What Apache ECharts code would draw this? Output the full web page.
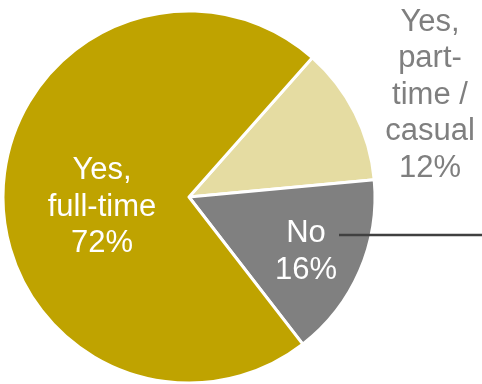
<!DOCTYPE html>
<html>
<head>
<meta charset="utf-8">
<script src="https://cdn.jsdelivr.net/npm/echarts@6/dist/echarts.min.js"></script>
<style>
  html, body { margin: 0; padding: 0; background: #fff; }
  #chart { width: 482px; height: 384px; }
</style>
</head>
<body>
<div id="chart"></div>
<script>
// Employment status shares
const categories = ['Yes,\npart-\ntime /\ncasual', 'No', 'Yes,\nfull-time'];
const shares = [12, 16, 72];
const sliceColors = ['#E5DCA2', '#808080', '#BFA300'];
const labelColors = ['#7F7F7F', '#FFFFFF', '#FFFFFF'];

// where each slice's text block sits
const labelSpots = [
  { x: 430, y: 95 },
  { x: 306, y: 252 },
  { x: 102, y: 207 }
];

const chart = echarts.init(document.getElementById('chart'), null, { renderer: 'canvas' });

chart.setOption({
  animation: false,
  series: [{
    type: 'pie',
    center: [189, 197],
    radius: [0, 186],
    startAngle: 48.5,
    clockwise: true,
    avoidLabelOverlap: false,
    itemStyle: { borderColor: '#FFFFFF', borderWidth: 3 },
    label: {
      show: true,
      position: 'inside',
      fontFamily: 'Liberation Sans, Arial, sans-serif',
      fontSize: 31,
      lineHeight: 36.5,
      align: 'center',
      formatter: p => p.name + '\n' + p.value + '%'
    },
    labelLine: { show: false },
    labelLayout: p => ({
      x: labelSpots[p.dataIndex].x,
      y: labelSpots[p.dataIndex].y,
      align: 'center',
      verticalAlign: 'middle'
    }),
    emphasis: { disabled: true },
    data: categories.map((name, i) => ({
      name: name,
      value: shares[i],
      itemStyle: { color: sliceColors[i] },
      label: { color: labelColors[i] }
    }))
  }],
  graphic: [{
    type: 'line',
    shape: { x1: 339, y1: 235, x2: 482, y2: 235 },
    style: { stroke: '#404040', lineWidth: 2.5 },
    z: 100
  }]
});
</script>
</body>
</html>
